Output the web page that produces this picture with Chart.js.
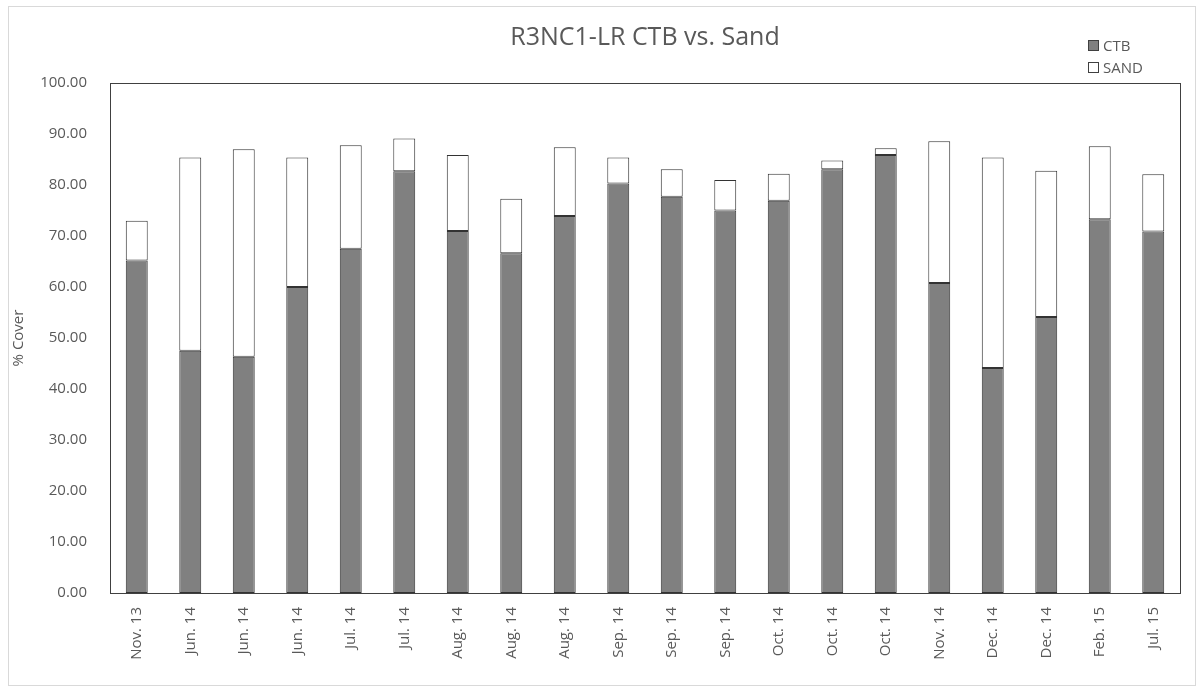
<!DOCTYPE html>
<html>
<head>
<meta charset="utf-8">
<script src="https://cdn.jsdelivr.net/npm/chart.js@4/dist/chart.umd.min.js"></script>
<style>
  html, body { margin: 0; padding: 0; background: #fff; }
  #wrap { position: relative; width: 1203px; height: 691px; }
  #frame { position: absolute; left: 8px; top: 6px; width: 1186px; height: 678px; border: 1px solid #d9d9d9; }
  #legend { position: absolute; left: 1088px; top: 34px; font-family: "Open Sans", sans-serif; font-size: 15px; color: #595959; }
  #legend div { display: flex; align-items: center; height: 22px; }
  #legend span.box { width: 11px; height: 11px; border: 1px solid #404040; margin-right: 4px; box-sizing: border-box; }
</style>
</head>
<body>
<div id="wrap">
  <div id="frame"></div>
  <canvas id="chart" width="1203" height="691"></canvas>
  <div id="legend"></div>
</div>
<script>
// sampling dates
const labels = [
    'Nov. 13', 'Jun. 14', 'Jun. 14', 'Jun. 14', 'Jul. 14', 'Jul. 14', 'Aug. 14', 'Aug. 14',
    'Aug. 14', 'Sep. 14', 'Sep. 14', 'Sep. 14', 'Oct. 14', 'Oct. 14', 'Oct. 14', 'Nov. 14',
    'Dec. 14', 'Dec. 14', 'Feb. 15', 'Jul. 15'
];

// % cover values
const ctbValues = [
    65.2, 47.5, 46.3, 60.0, 67.5, 82.7, 71.0, 66.6, 73.9, 80.3,
    77.7, 75.0, 76.9, 83.1, 85.9, 60.8, 44.1, 54.1, 73.3, 70.9
];
const sandValues = [
    7.8, 37.9, 40.7, 25.4, 20.3, 6.4, 14.9, 10.7, 13.5, 5.1,
    5.4, 6.0, 5.3, 1.7, 1.3, 27.8, 41.3, 28.7, 14.3, 11.2
];

const yTicks = { min: 0, max: 100, step: 10 };

const titleText = 'R3NC1-LR CTB vs. Sand';
const textColor = '#595959';
const fontFamily = '"Open Sans", sans-serif';

// box around the plot area + title centred over it (like Excel)
const plotBorder = {
    id: 'plotBorder',
    afterDatasetsDraw(chart) {
        const a = chart.chartArea;
        const ctx = chart.ctx;
        ctx.save();
        ctx.strokeStyle = '#404040';
        ctx.lineWidth = 1;
        ctx.strokeRect(Math.round(a.left) + 0.5, Math.round(a.top) + 0.5,
            Math.round(a.right - a.left), Math.round(a.bottom - a.top));

        ctx.fillStyle = textColor;
        ctx.font = '25px ' + fontFamily;
        ctx.textAlign = 'center';
        ctx.textBaseline = 'middle';
        ctx.fillText(titleText, (a.left + a.right) / 2, 38);
        ctx.restore();
    }
};

const datasets = [
    {
        label: 'CTB',
        data: ctbValues,
        backgroundColor: '#808080',
        borderColor: '#333333',
        borderWidth: 1,
        borderSkipped: false,
        categoryPercentage: 1.0,
        barPercentage: 0.41
    },
    {
        label: 'SAND',
        data: sandValues,
        backgroundColor: '#ffffff',
        borderColor: '#333333',
        borderWidth: 1,
        borderSkipped: false,
        categoryPercentage: 1.0,
        barPercentage: 0.41
    }
];

const ctx = document.getElementById('chart').getContext('2d');
new Chart(ctx, {
    type: 'bar',
    data: { labels: labels, datasets: datasets },
    plugins: [plotBorder],
    options: {
        responsive: false,
        animation: false,
        layout: { padding: { left: 10, right: 23, top: 83, bottom: 0 } },
        plugins: {
            legend: { display: false },
            tooltip: { enabled: false },
            title: { display: false }
        },
        scales: {
            x: {
                stacked: true,
                grid: { display: false },
                border: { display: false },
                ticks: {
                    color: textColor,
                    font: { family: fontFamily, size: 15 },
                    minRotation: 90,
                    maxRotation: 90,
                    autoSkip: false,
                    padding: 6
                },
                afterFit: scale => { scale.height = 98; }
            },
            y: {
                stacked: true,
                min: yTicks.min,
                max: yTicks.max,
                grid: { display: false },
                border: { display: false },
                ticks: {
                    stepSize: yTicks.step,
                    color: textColor,
                    font: { family: fontFamily, size: 15 },
                    padding: 15,
                    callback: v => v.toFixed(2)
                },
                title: {
                    display: true,
                    text: '% Cover',
                    color: textColor,
                    font: { family: fontFamily, size: 15 },
                    padding: 0
                },
                afterFit: scale => { scale.width = 100; }
            }
        }
    }
});

// legend built from the datasets
const legend = document.getElementById('legend');
datasets.forEach(ds => {
    const row = document.createElement('div');
    row.innerHTML = `<span class="box" style="background:${ds.backgroundColor}"></span>${ds.label}`;
    legend.appendChild(row);
});
</script>
</body>
</html>
